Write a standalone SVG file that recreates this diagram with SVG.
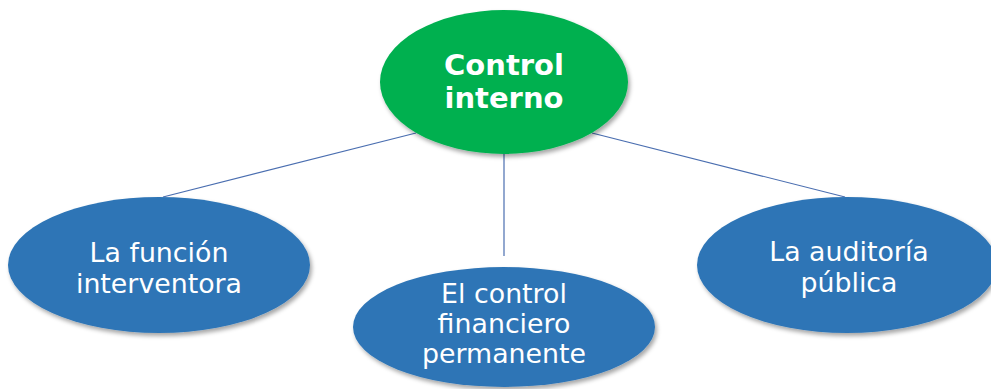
<svg xmlns="http://www.w3.org/2000/svg" width="991" height="389" viewBox="0 0 991 389">
<style>
.link{stroke:#4a6eb0;stroke-width:1.2;fill:none}
.top{fill:#00b050}
.sub{fill:#2e75b6}
.t{font-family:"DejaVu Sans","Verdana",sans-serif;fill:#fff;text-anchor:middle}
.tb{font-size:29px;font-weight:bold}
.ts{font-size:26.8px}
</style>
<defs>
<filter id="sh" x="-10%" y="-10%" width="125%" height="130%">
<feDropShadow dx="2" dy="3" stdDeviation="2" flood-color="#000" flood-opacity="0.35"/>
</filter>
</defs>
<rect width="991" height="389" fill="#fff"/>
<g id="connectors">
<line class="link" x1="163" y1="197" x2="416" y2="133"/>
<line class="link" x1="504" y1="154" x2="504" y2="256"/>
<line class="link" x1="592" y1="133" x2="845" y2="197"/>
</g>
<g id="control-interno">
<ellipse class="top" cx="504" cy="82" rx="124" ry="72" filter="url(#sh)"/>
<text class="t tb" x="504" y="75">Control</text>
<text class="t tb" x="504" y="108">interno</text>
</g>
<g id="funcion-interventora">
<ellipse class="sub" cx="159" cy="265" rx="151" ry="68" filter="url(#sh)"/>
<text class="t ts" x="159" y="262">La función</text>
<text class="t ts" x="159" y="293">interventora</text>
</g>
<g id="control-financiero">
<ellipse class="sub" cx="504" cy="327" rx="151" ry="60" filter="url(#sh)"/>
<text class="t ts" x="504" y="303">El control</text>
<text class="t ts" x="504" y="333">financiero</text>
<text class="t ts" x="504" y="363">permanente</text>
</g>
<g id="auditoria-publica">
<ellipse class="sub" cx="847" cy="265" rx="150" ry="68" filter="url(#sh)"/>
<text class="t ts" x="849" y="261">La auditoría</text>
<text class="t ts" x="849" y="292">pública</text>
</g>
</svg>
